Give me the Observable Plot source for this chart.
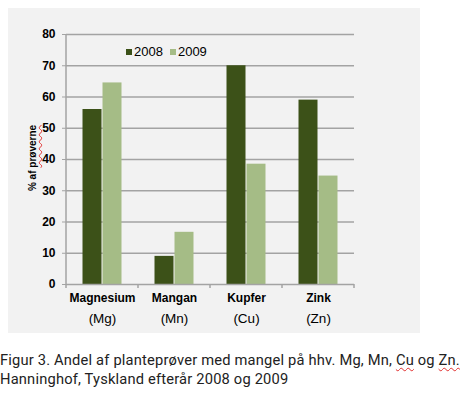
<!DOCTYPE html>
<html>
<head>
<meta charset="utf-8">
<script src="https://cdn.jsdelivr.net/npm/d3@7"></script>
<script src="https://cdn.jsdelivr.net/npm/@observablehq/plot@0.6"></script>
<style>
  body { margin: 0; background: #ffffff; }
  #wrap { position: relative; width: 472px; height: 397px; font-family: "Liberation Sans", Arial, sans-serif; }
  #chart { position: absolute; left: 8px; top: 8px; }
  #legend { position: absolute; left: 126px; top: 44px; font-size: 13px; color: #000; display: flex; gap: 7px; }
  #legend span.sw { display: inline-block; width: 6px; height: 6px; margin-right: 2px; vertical-align: 1px; }
  #ylabel { position: absolute; left: 32px; top: 158px; transform: translate(-50%, -50%) rotate(-90deg); font-size: 10px; font-weight: bold; white-space: nowrap; }
  #caption { position: absolute; left: 0px; top: 351px; font-family: Roboto, "Liberation Sans", sans-serif; font-size: 14.7px; letter-spacing: 0.18px; line-height: 19px; color: #222; white-space: nowrap; }
  .sq { text-decoration: underline wavy #e03030; text-decoration-thickness: 1px; text-underline-offset: 2px; }
</style>
</head>
<body>
<div id="wrap">
  <div id="chart"></div>
  <div id="legend"></div>
  <div id="ylabel">% af <span class="sq">prøverne</span></div>
  <div id="caption">Figur 3. Andel af planteprøver med mangel på hhv. Mg, Mn, <span class="sq">Cu</span> og <span class="sq">Zn.</span><br>Hanninghof, Tyskland efterår 2008 og 2009</div>
</div>
<script>
const categories = ["Magnesium", "Mangan", "Kupfer", "Zink"];
const symbols = ["(Mg)", "(Mn)", "(Cu)", "(Zn)"];
const years = ["2008", "2009"];
const values2008 = [56, 9, 70, 59];
const values2009 = [64.5, 16.7, 38.5, 34.7];
const colors = ["#3c5118", "#a5bc86"];
const yTicks = [0, 10, 20, 30, 40, 50, 60, 70, 80];

const data = [];
categories.forEach((c, i) => {
  data.push({category: c, year: years[0], value: values2008[i]});
  data.push({category: c, year: years[1], value: values2009[i]});
});

const gridColor = "#a3a3a3";

const plot = Plot.plot({
  width: 412,
  height: 325,
  marginLeft: 56,
  marginRight: 65,
  marginTop: 26,
  marginBottom: 49,
  style: {background: "#f2f2f2", fontFamily: "'Liberation Sans', Arial, sans-serif", color: "#000", overflow: "visible"},
  fx: {domain: categories, padding: 0, label: null},
  x: {domain: years, paddingInner: 0, paddingOuter: 0.774, axis: null},
  y: {domain: [0, 80], ticks: yTicks, label: null},
  color: {domain: years, range: colors},
  marks: [
    Plot.gridY(yTicks.filter(d => d > 0), {stroke: gridColor, strokeOpacity: 1, strokeWidth: 1.5}),
    Plot.barY(data, {fx: "category", x: "year", y: "value", fill: "year", insetLeft: 0.5, insetRight: 0.5}),
    Plot.ruleY([0], {stroke: gridColor, strokeWidth: 1.5}),
    Plot.axisY(yTicks, {tickSize: 4, tickPadding: 7, fontWeight: "bold", fontSize: 12, stroke: gridColor, label: null}),
    Plot.axisFx({anchor: "bottom", tickSize: 0, tickPadding: 9, fontWeight: "bold", fontSize: 12, label: null}),
    Plot.axisFx({anchor: "bottom", tickSize: 0, tickPadding: 29, fontSize: 13.5, label: null, tickFormat: d => symbols[categories.indexOf(d)]})
  ]
});

document.getElementById("chart").appendChild(plot);

// Excel-style axis line and category boundary ticks, placed through the plot's own scales
const fx = plot.scale("fx");
const y = plot.scale("y");
const svg = d3.select(plot);
const x0 = fx.apply(categories[0]);
const bounds = categories.map(c => fx.apply(c)).concat([fx.apply(categories[categories.length - 1]) + fx.bandwidth]);
svg.append("line")
  .attr("x1", x0).attr("x2", x0)
  .attr("y1", y.apply(80)).attr("y2", y.apply(0))
  .attr("stroke", gridColor).attr("stroke-width", 1.5);
svg.append("g").selectAll("line").data(bounds).join("line")
  .attr("x1", d => d).attr("x2", d => d)
  .attr("y1", y.apply(0)).attr("y2", y.apply(0) + 4)
  .attr("stroke", gridColor).attr("stroke-width", 1.5);

// legend
const legend = d3.select("#legend");
years.forEach((yr, i) => {
  const item = legend.append("span");
  item.append("span").attr("class", "sw").style("background", colors[i]);
  item.append("span").text(yr);
});
</script>
</body>
</html>
